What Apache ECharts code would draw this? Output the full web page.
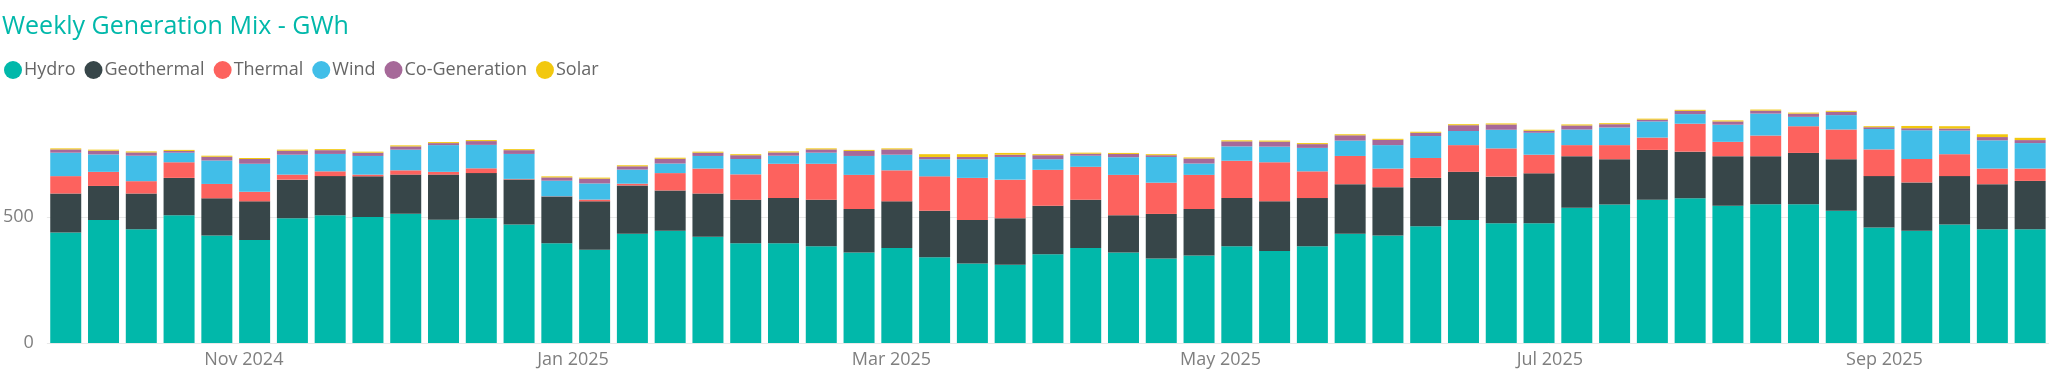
<!DOCTYPE html>
<html>
<head>
<meta charset="utf-8">
<script src="https://cdn.jsdelivr.net/npm/echarts@6/dist/echarts.min.js"></script>
<style>
  html, body { margin: 0; padding: 0; background: #fff; }
  #chart { width: 2054px; height: 376px; }
</style>
</head>
<body>
<div id="chart"></div>
<script>
// week starting dates
var weeks = [
  '2024-09-29','2024-10-06','2024-10-13','2024-10-20','2024-10-27','2024-11-03','2024-11-10','2024-11-17','2024-11-24',
  '2024-12-01','2024-12-08','2024-12-15','2024-12-22','2024-12-29','2025-01-05','2025-01-12','2025-01-19','2025-01-26',
  '2025-02-02','2025-02-09','2025-02-16','2025-02-23','2025-03-02','2025-03-09','2025-03-16','2025-03-23','2025-03-30',
  '2025-04-06','2025-04-13','2025-04-20','2025-04-27','2025-05-04','2025-05-11','2025-05-18','2025-05-25','2025-06-01',
  '2025-06-08','2025-06-15','2025-06-22','2025-06-29','2025-07-06','2025-07-13','2025-07-20','2025-07-27','2025-08-03',
  '2025-08-10','2025-08-17','2025-08-24','2025-08-31','2025-09-07','2025-09-14','2025-09-21','2025-09-28'
];

// GWh per week
var hydro = [438,488,451,507,426,409,495,507,500,513,489,495,470,396,370,433,445,421,396,396,384,359,377,340,315,310,
  352,377,359,335,347,384,365,384,433,426,463,488,475,475,537,549,568,574,544,550,550,525,458,445,470,451,451];
var geothermal = [155,135,142,148,148,153,153,155,161,155,179,179,179,185,192,192,160,172,172,179,184,173,185,185,173,185,
  192,191,148,177,185,191,197,191,197,192,192,191,185,198,204,180,198,185,197,191,204,204,204,192,192,179,192];
var thermal = [69,56,49,62,57,38,20,19,7,17,11,19,2,1,7,7,69,99,101,136,143,135,123,136,167,153,
  143,131,160,124,135,148,155,106,112,74,79,106,112,74,44,56,49,111,57,82,106,118,106,93,87,62,49];
var wind = [93,69,101,38,93,111,79,69,74,82,106,93,99,62,64,56,38,50,61,32,44,75,62,68,74,90,
  42,44,70,102,45,57,62,93,61,93,87,56,74,87,62,70,64,38,68,87,37,57,81,114,94,112,101];
var cogen = [13,15,13,7,15,19,16,15,13,13,8,15,15,13,19,13,19,13,15,13,13,20,21,9,9,9,
  16,8,13,7,20,20,20,15,21,21,13,23,21,8,16,13,7,13,13,12,13,13,7,8,8,13,12];
var solar = [4,4,4,4,4,4,4,4,4,4,4,4,4,4,4,4,4,4,4,4,4,4,4,11,11,7,
  4,4,4,4,4,4,4,4,4,4,4,4,4,4,4,4,4,4,4,4,4,4,4,9,9,11,9];

var monthLabels = ['Nov 2024', 'Jan 2025', 'Mar 2025', 'May 2025', 'Jul 2025', 'Sep 2025'];
var monthNames = ['Jan','Feb','Mar','Apr','May','Jun','Jul','Aug','Sep','Oct','Nov','Dec'];

var font = '"Segoe UI", "Open Sans", sans-serif';

var seriesDefs = [
  { name: 'Hydro', data: hydro, color: '#01B8AA' },
  { name: 'Geothermal', data: geothermal, color: '#374649' },
  { name: 'Thermal', data: thermal, color: '#FD625E' },
  { name: 'Wind', data: wind, color: '#41BEE8' },
  { name: 'Co-Generation', data: cogen, color: '#A66999' },
  { name: 'Solar', data: solar, color: '#F2C80F' }
];

var chart = echarts.init(document.getElementById('chart'));

// echarts widens a time axis by the bar width on its own, so the limits sit a bit inside
var option = {
  animation: false,
  title: {
    text: 'Weekly Generation Mix - GWh',
    left: -3,
    top: 9,
    textStyle: { color: '#01B8AA', fontFamily: font, fontSize: 25, fontWeight: 'normal' }
  },
  legend: {
    left: -1,
    top: 56,
    icon: 'circle',
    itemWidth: 18,
    itemHeight: 18,
    itemGap: 9,
    textStyle: { color: '#666', fontFamily: font, fontSize: 18, padding: [0, 0, 0, -3] },
    data: seriesDefs.map(function (s) { return s.name; })
  },
  grid: { left: 46, right: 5, top: 101, bottom: 33, containLabel: false },
  xAxis: {
    type: 'time',
    min: '2024-09-28 09:00',
    max: '2025-09-28 15:00',
    splitNumber: 12,
    axisLine: { show: false },
    axisTick: { show: false },
    splitLine: { show: false },
    axisLabel: {
      color: '#7f7f7f',
      fontFamily: font,
      fontSize: 18,
      margin: 8,
      hideOverlap: false,
      formatter: function (value) {
        var d = new Date(value);
        if (d.getDate() !== 1) return '';
        var s = monthNames[d.getMonth()] + ' ' + d.getFullYear();
        return monthLabels.indexOf(s) >= 0 ? s : '';
      }
    }
  },
  yAxis: {
    type: 'value',
    min: 0,
    max: 960,
    interval: 500,
    axisLine: { show: false },
    axisTick: { show: false },
    splitLine: { show: true, showMaxLine: false, lineStyle: { color: '#e9e9e9', width: 1 } },
    axisLabel: {
      color: '#7f7f7f',
      fontFamily: font,
      fontSize: 18,
      margin: 13,
      showMaxLabel: false,
      formatter: function (v) { return v % 500 === 0 ? String(v) : ''; }
    }
  },
  series: seriesDefs.map(function (s) {
    return {
      name: s.name,
      type: 'bar',
      stack: 'total',
      barWidth: 31,
      itemStyle: { color: s.color },
      emphasis: { disabled: true },
      data: weeks.map(function (w, i) { return [w, s.data[i]]; })
    };
  })
};

chart.setOption(option);
</script>
</body>
</html>
